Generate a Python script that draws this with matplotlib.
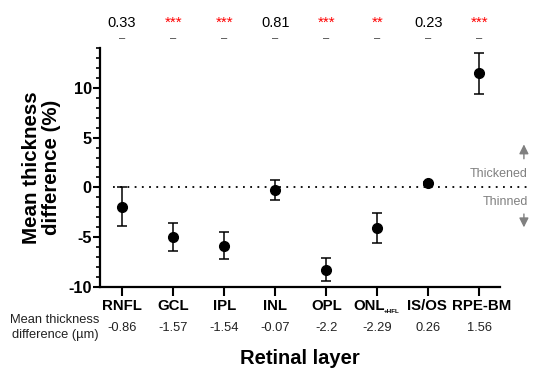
import numpy as np
import matplotlib
matplotlib.use("Agg")
import matplotlib.pyplot as plt

plt.rcParams['font.family'] = ['Liberation Sans', 'DejaVu Sans']
plt.rcParams['axes.unicode_minus'] = False

# data
layers = ["RNFL", "GCL", "IPL", "INL", "OPL", "ONL", "IS/OS", "RPE-BM"]
mean_pct = [-1.93, -5.0, -5.9, -0.25, -8.3, -4.05, 0.4, 11.5]
err_low = [-3.9, -6.4, -7.25, -1.3, -9.45, -5.6, 0.25, 9.4]
err_high = [0.0, -3.6, -4.5, 0.75, -7.15, -2.55, 0.55, 13.55]
p_labels = ["0.33", "***", "***", "0.81", "***", "**", "0.23", "***"]
mean_um = ["-0.86", "-1.57", "-1.54", "-0.07", "-2.2", "-2.29", "0.26", "1.56"]

x = np.arange(len(layers))
mean_pct = np.array(mean_pct)
yerr = np.vstack([mean_pct - np.array(err_low), np.array(err_high) - mean_pct])

fig = plt.figure(figsize=(5.53, 3.73), dpi=100)
ax = fig.add_axes([0.181, 0.231, 0.723, 0.64])

ax.errorbar(x, mean_pct, yerr=yerr, fmt='o', color='black', markersize=7,
            capsize=3.5, elinewidth=1.1, capthick=1.1, zorder=3)

# dotted zero line, runs past the axis end
ax.plot([-0.18, 7.98], [0, 0], linestyle=(0, (1, 3)), color='black', lw=1.3,
        clip_on=False, zorder=1)

ax.set_xlim(-0.43, 7.4)
ax.set_ylim(-10, 14)
ax.set_yticks([-10, -5, 0, 5, 10])
ax.set_yticks(np.arange(-10, 15, 1), minor=True)
ax.set_xticks(x)
ax.set_xticklabels([])
for lab in ax.get_yticklabels():
    lab.set_fontweight('bold')
    lab.set_fontsize(11.8)

# layer names drawn by hand so ONL can carry its tiny +HFL
trans = ax.get_xaxis_transform()
label_y = -0.079
nudge = {"IS/OS": -0.03, "RPE-BM": 0.05}
for xi, name in zip(x, layers):
    if name == "ONL":
        ax.text(xi - 0.17, label_y, name, transform=trans, ha='center', va='center',
                fontsize=10.8, fontweight='bold')
        ax.text(xi + 0.12, label_y - 0.024, "+HFL", transform=trans, ha='left',
                va='center', fontsize=4.5, fontweight='bold')
    else:
        ax.text(xi + nudge.get(name, 0), label_y, name, transform=trans, ha='center',
                va='center', fontsize=10.8, fontweight='bold')

for s in ['top', 'right']:
    ax.spines[s].set_visible(False)
for s in ['left', 'bottom']:
    ax.spines[s].set_linewidth(1.6)
ax.tick_params(axis='both', which='major', length=5, width=1.5, pad=1)
ax.tick_params(axis='y', which='minor', length=3, width=1.2)
ax.tick_params(axis='x', which='major', length=6.5, pad=2)

ax.set_ylabel("Mean thickness\ndifference (%)", fontweight='bold', fontsize=14.8,
              labelpad=5, linespacing=1.12)
ax.set_xlabel("Retinal layer", fontweight='bold', fontsize=14.5, labelpad=36)

# p-values above each layer
for xi, p in zip(x, p_labels):
    red = p.startswith('*')
    ax.text(xi, 16.5, p, ha='center', va='center', fontsize=10.5 if not red else 11,
            color='red' if red else 'black', clip_on=False)
    ax.text(xi, 15.0, "–", ha='center', va='center', fontsize=8, color='#333333',
            clip_on=False)

# thickness difference in micrometres
for xi, v in zip(x, mean_um):
    ax.text(xi, -14.1, v, ha='center', va='center', fontsize=9.3, color='#222222',
            clip_on=False)
ax.text(-1.31, -14.1, "Mean thickness\ndifference (µm)", ha='center', va='center',
        fontsize=9.3, color='#222222', clip_on=False, linespacing=1.3)

# thickened / thinned hints
gray = '#808080'
ax.annotate("", xy=(7.87, 4.6), xytext=(7.87, 2.6),
            arrowprops=dict(arrowstyle='-|>', color=gray, lw=1.0, mutation_scale=14),
            annotation_clip=False)
ax.annotate("", xy=(7.87, -4.3), xytext=(7.87, -2.4),
            arrowprops=dict(arrowstyle='-|>', color=gray, lw=1.0, mutation_scale=14),
            annotation_clip=False)
ax.text(7.95, 1.3, "Thickened", ha='right', va='center', fontsize=9, color=gray,
        clip_on=False)
ax.text(7.95, -1.45, "Thinned", ha='right', va='center', fontsize=9, color=gray,
        clip_on=False)

fig.savefig("out.png", dpi=100)
